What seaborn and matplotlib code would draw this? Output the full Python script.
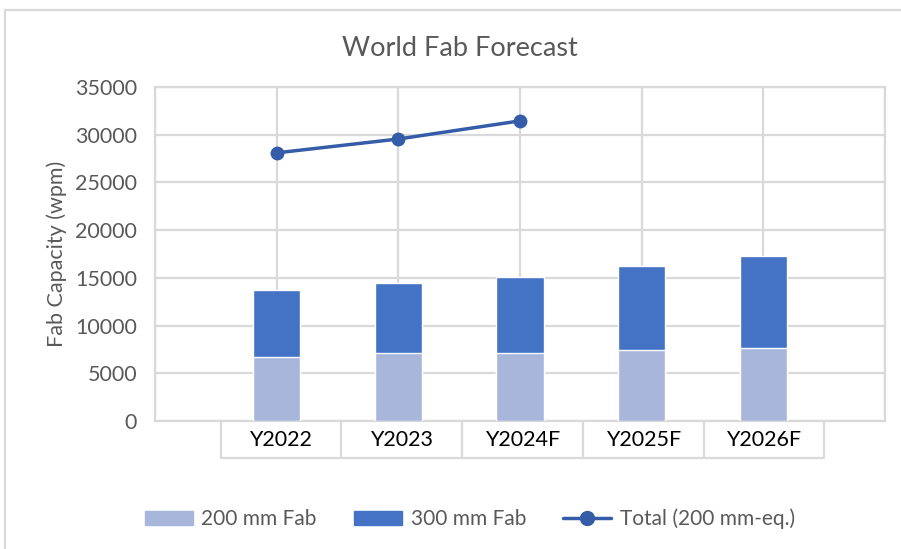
import matplotlib.pyplot as plt
import pandas as pd
import seaborn as sns
from matplotlib.lines import Line2D
from matplotlib.patches import Patch, Rectangle

# values
years = ['Y2022', 'Y2023', 'Y2024F', 'Y2025F', 'Y2026F']
fab_200 = [6750, 7100, 7100, 7480, 7620]
fab_300 = [6950, 7380, 8000, 8780, 9690]
total_years = ['Y2022', 'Y2023', 'Y2024F']
total_eq = [28100, 29550, 31450]
y_ticks = [0, 5000, 10000, 15000, 20000, 25000, 30000, 35000]

light = '#A9B6DB'
dark = '#4472C4'
line_col = '#355CA8'
grid_col = '#D9D9D9'
grey = '#595959'

sns.set_theme(style='white')
plt.rcParams['font.family'] = ['Lato', 'DejaVu Sans']

df = pd.DataFrame({'year': years, 'f200': fab_200, 'f300': fab_300})
df['pos'] = range(1, len(years) + 1)
df['stack'] = df['f200'] + df['f300']
pos_of = dict(zip(df['year'], df['pos']))
tot = pd.DataFrame({'pos': [pos_of[y] for y in total_years], 'total': total_eq})

fig = plt.figure(figsize=(9.01, 5.49), dpi=100)
ax = fig.add_axes([155 / 901, 1 - 421 / 549, 730 / 901, 334 / 549])

# stacked bars: full stack in dark, then the 200 mm part over it
sns.barplot(data=df, x='pos', y='stack', native_scale=True, color=dark,
            width=0.39, saturation=1, ax=ax, zorder=2)
sns.barplot(data=df, x='pos', y='f200', native_scale=True, color=light,
            width=0.39, saturation=1, ax=ax, zorder=3)
sns.lineplot(data=tot, x='pos', y='total', color=line_col, marker='o',
             markersize=10, markeredgewidth=0, linewidth=2.5, ax=ax, zorder=4)

ax.set_xlim(0, len(years) + 1)
ax.set_ylim(0, 35000)
ax.set_xticks(range(len(years) + 2))
ax.set_yticks(y_ticks)
ax.set_yticklabels([str(v) for v in y_ticks])
ax.set_xticklabels([])
ax.grid(True, color=grid_col, linewidth=1.6)
ax.set_axisbelow(True)
for s in ax.spines.values():
    s.set_color(grid_col)
    s.set_linewidth(1.6)
ax.tick_params(axis='y', length=0, pad=13, labelsize=15.5, labelcolor=grey)
ax.tick_params(axis='x', length=0)
ax.set_xlabel('')
ax.set_ylabel('')

# category label table under the axis
edges = [0.54, 1.53, 2.52, 3.52, 4.51, 5.5]
tr = ax.get_xaxis_transform()
for e in edges:
    ax.plot([e, e], [0, -0.111], transform=tr, color=grid_col, lw=1.6, clip_on=False)
ax.plot([edges[0], edges[-1]], [-0.111, -0.111], transform=tr, color=grid_col,
        lw=1.6, clip_on=False)
for i, lab in enumerate(years):
    ax.text((edges[i] + edges[i + 1]) / 2, -0.058, lab, transform=tr,
            ha='center', va='center', fontsize=15.5, color='black')

fig.text(460 / 901, 1 - 48 / 549, 'World Fab Forecast', ha='center', va='center',
         fontsize=19.5, color=grey)
fig.text(57 / 901, 1 - 254 / 549, 'Fab Capacity (wpm)', ha='center', va='center',
         rotation=90, fontsize=15.5, color=grey)

handles = [Patch(color=light), Patch(color=dark),
           Line2D([], [], color=line_col, marker='o', markersize=10, lw=2.5)]
fig.legend(handles, ['200 mm Fab', '300 mm Fab', 'Total (200 mm-eq.)'],
           loc='center', bbox_to_anchor=(470 / 901, 1 - 519 / 549), ncol=3,
           frameon=False, fontsize=15, handlelength=2.3, handleheight=0.6,
           columnspacing=1.8, handletextpad=0.4, labelcolor=grey)

# chart area border (runs off the right and bottom edges)
fig.patches.append(Rectangle((5 / 901, -0.1), 1.2, 1.1 - 10 / 549, fill=False,
                             edgecolor=grid_col, lw=1.6, transform=fig.transFigure))

fig.savefig('out.png', dpi=100)
